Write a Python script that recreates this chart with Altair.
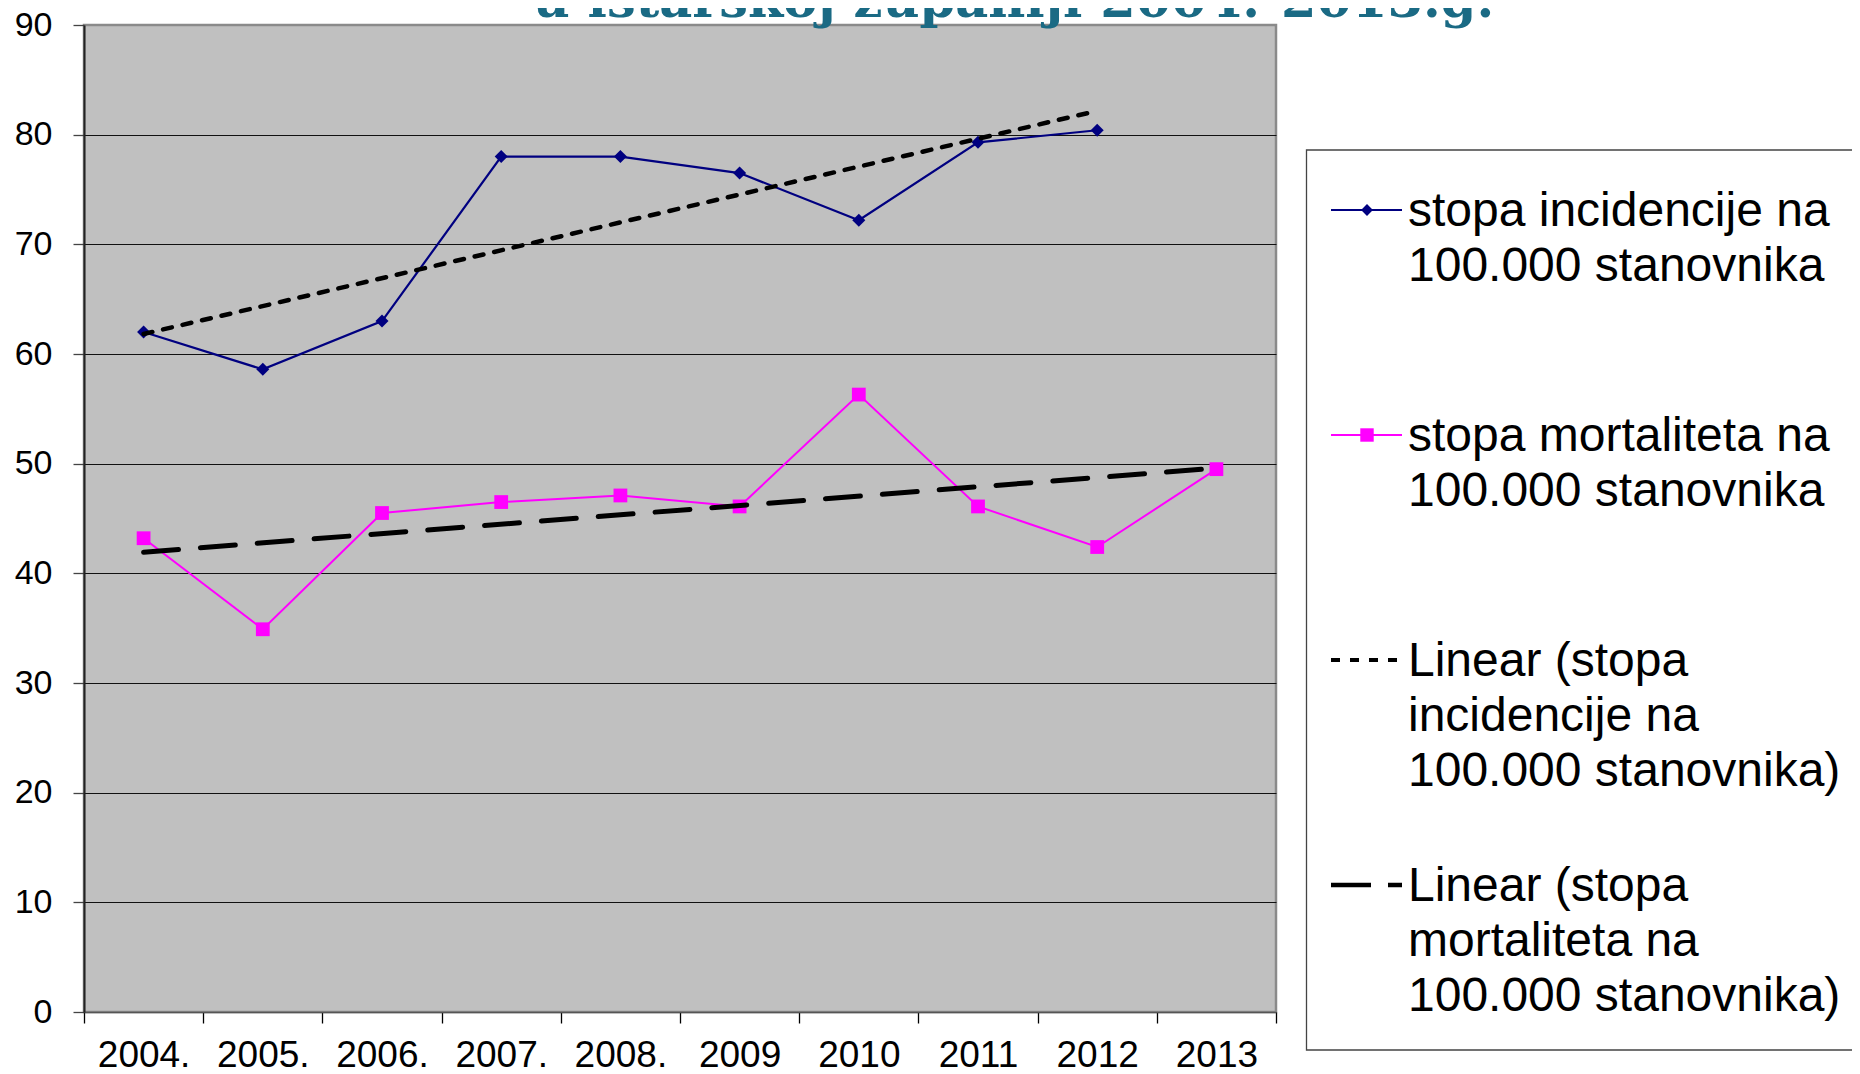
import json
import altair as alt
import pandas as pd

# ---- data ----
years = ["2004.", "2005.", "2006.", "2007.", "2008.", "2009", "2010", "2011", "2012", "2013"]
incidence = [62.0, 58.6, 63.0, 78.0, 78.0, 76.5, 72.2, 79.3, 80.4, None]
mortality = [43.2, 34.9, 45.5, 46.5, 47.1, 46.1, 56.3, 46.1, 42.4, 49.5]

legend_labels = [
    "stopa incidencije na\n100.000 stanovnika",
    "stopa mortaliteta na\n100.000 stanovnika",
    "Linear (stopa\nincidencije na\n100.000 stanovnika)",
    "Linear (stopa\nmortaliteta na\n100.000 stanovnika)",
]
title_text = "u istarskoj županiji 2004.-2013.g."

df = pd.DataFrame({
    "year": years,
    "idx": list(range(len(years))),
    "inc": incidence,
    "mort": mortality,
})

NAVY = "#000080"
PINK = "#FF00FF"
FONT = "Liberation Sans"

W, H = 1192, 987

x_enc = alt.X(
    "year:N",
    scale=alt.Scale(type="band", domain=years, paddingInner=0, paddingOuter=0),
    axis=alt.Axis(
        title=None, labelAngle=0, labelFont=FONT, labelFontSize=37, labelColor="black",
        labelPadding=14, tickBand="extent", tickSize=11, tickColor="black", tickWidth=1.3,
        domainColor="#555555", domainWidth=1.5, grid=False, labelFlush=False,
    ),
)

y_axis = alt.Axis(
    title=None, values=list(range(0, 91, 10)), labelFont=FONT, labelFontSize=34,
    labelColor="black", labelPadding=21, tickSize=11, tickColor="#444444", tickWidth=1.3,
    domainColor="#222222", domainWidth=2, grid=True,
    gridColor={"condition": {"test": "datum.value === 90", "value": "#8a8a8a"}, "value": "#111111"},
    gridWidth=1.2,
)
y_scale = alt.Scale(domain=[0, 90], nice=False, zero=True)

base = alt.Chart(df)

inc_line = base.mark_line(color=NAVY, strokeWidth=2.2).encode(
    x=x_enc, y=alt.Y("inc:Q", scale=y_scale, axis=y_axis))
inc_pts = base.mark_point(shape="diamond", filled=True, color=NAVY, size=170, opacity=1).encode(
    x=x_enc, y=alt.Y("inc:Q", scale=y_scale, axis=y_axis))
mort_line = base.mark_line(color=PINK, strokeWidth=2).encode(
    x=x_enc, y=alt.Y("mort:Q", scale=y_scale, axis=y_axis))
mort_pts = base.mark_point(shape="square", filled=True, color=PINK, size=190, opacity=1).encode(
    x=x_enc, y=alt.Y("mort:Q", scale=y_scale, axis=y_axis))

year_expr = json.dumps(years) + "[datum.idx]"

inc_trend = (
    base.transform_filter("isValid(datum.inc)")
    .transform_regression("idx", "inc", method="linear")
    .transform_calculate(year=year_expr)
    .mark_line(color="black", strokeWidth=4.5, strokeDash=[9, 11], strokeCap="round")
    .encode(x=x_enc, y=alt.Y("inc:Q", scale=y_scale, axis=y_axis))
)
mort_trend = (
    base.transform_filter("isValid(datum.mort)")
    .transform_regression("idx", "mort", method="linear")
    .transform_calculate(year=year_expr)
    .mark_line(color="black", strokeWidth=5, strokeDash=[35, 22], strokeCap="round")
    .encode(x=x_enc, y=alt.Y("mort:Q", scale=y_scale, axis=y_axis))
)

# ---- legend (drawn to the right of the plot) ----
one = pd.DataFrame({"k": [0]})
lg_left, lg_top, lg_bottom = 1222.5, 125, 1025
sym_x0, sym_x1, sym_xm = 1247, 1318, 1283
text_x = 1324
entry_y = [185, 410, 635, 860]
styles = [
    dict(color=NAVY, strokeWidth=2, strokeDash=[1, 0]),
    dict(color=PINK, strokeWidth=2, strokeDash=[1, 0]),
    dict(color="black", strokeWidth=4, strokeDash=[9, 10]),
    dict(color="black", strokeWidth=4.5, strokeDash=[40, 17]),
]

legend_layers = [
    alt.Chart(one).mark_rect(fill="white", stroke="#444444", strokeWidth=1.3).encode(
        x=alt.value(lg_left), x2=alt.value(lg_left + 700),
        y=alt.value(lg_top), y2=alt.value(lg_bottom))
]
for i, lab in enumerate(legend_labels):
    st = styles[i]
    legend_layers.append(
        alt.Chart(one).mark_rule(color=st["color"], strokeWidth=st["strokeWidth"],
                                 strokeDash=st["strokeDash"], strokeCap="butt").encode(
            x=alt.value(sym_x0), x2=alt.value(sym_x1), y=alt.value(entry_y[i]))
    )
    legend_layers.append(
        alt.Chart(pd.DataFrame({"t": [lab]})).mark_text(
            align="left", baseline="alphabetic", font=FONT, fontSize=48, lineHeight=55,
            lineBreak="\n", color="black").encode(
            text="t:N", x=alt.value(text_x), y=alt.value(entry_y[i] + 16))
    )
legend_layers.append(
    alt.Chart(one).mark_point(shape="diamond", filled=True, color=NAVY, size=140, opacity=1).encode(
        x=alt.value(sym_xm), y=alt.value(entry_y[0])))
legend_layers.append(
    alt.Chart(one).mark_point(shape="square", filled=True, color=PINK, size=180, opacity=1).encode(
        x=alt.value(sym_xm), y=alt.value(entry_y[1])))

title_layer = alt.Chart(pd.DataFrame({"t": [title_text]})).mark_text(
    align="center", baseline="alphabetic", font="DejaVu Serif", fontWeight="bold",
    fontSize=51, color="#1A6A84").encode(text="t:N", x=alt.value(929.5), y=alt.value(-8))

chart = alt.layer(
    inc_line, mort_line, inc_pts, mort_pts, inc_trend, mort_trend,
    *legend_layers, title_layer,
).properties(
    width=W, height=H,
    padding={"left": 76, "top": 17, "right": 576, "bottom": 62},
    autosize=alt.AutoSizeParams(type="none"),
    background="white",
).configure_view(
    fill="#C0C0C0", stroke="#8a8a8a", strokeWidth=2.5,
)

chart.save("out.html", embed_options={"renderer": "svg", "actions": False})
